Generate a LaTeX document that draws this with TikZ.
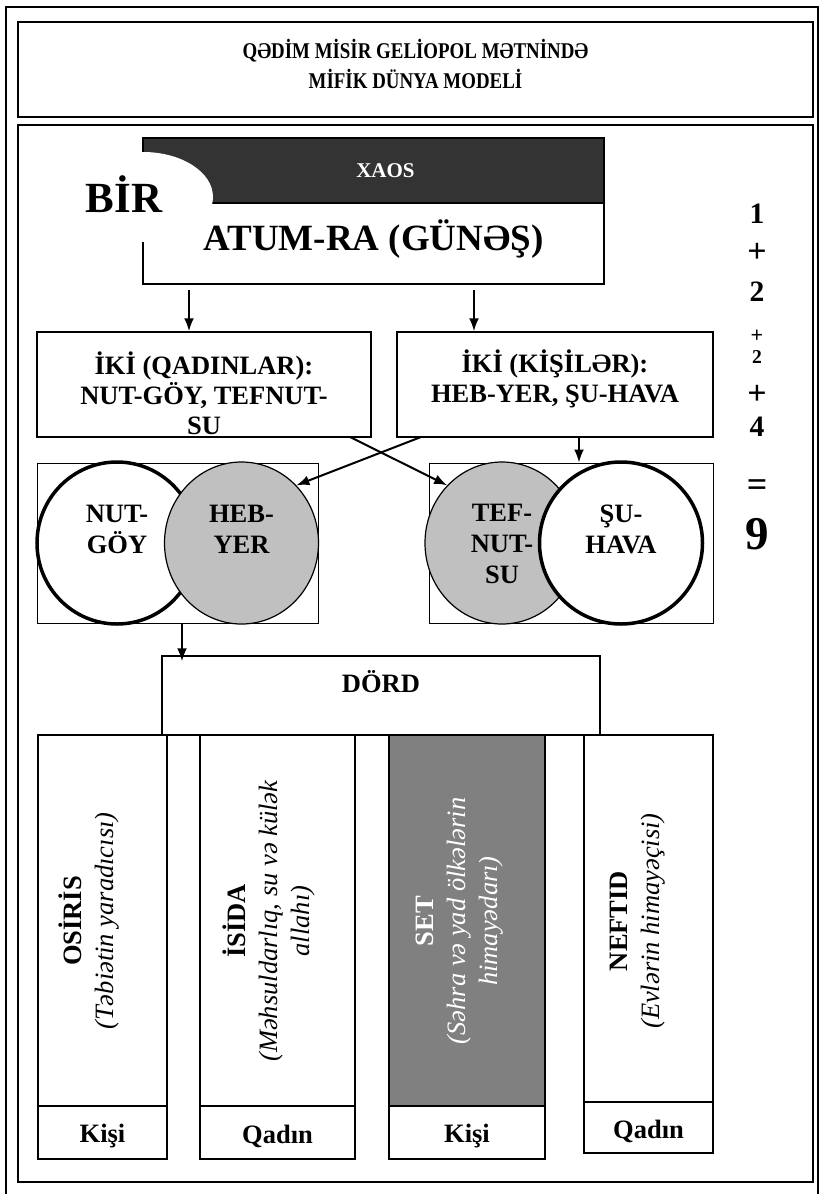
\documentclass[tikz,border=0pt]{standalone}
\usepackage{fontspec}
\setmainfont{Liberation Serif}
\newfontfamily\schmal[FakeStretch=0.84]{Liberation Serif}
\usepackage{tikz}
\usetikzlibrary{shapes.geometric}
\usetikzlibrary{positioning}
\usetikzlibrary{arrows.meta}
\definecolor{xaosgrau}{HTML}{333333}
\definecolor{kreisgrau}{HTML}{C0C0C0}
\definecolor{setgrau}{HTML}{808080}
\tikzset{every picture/.style={x=1pt,y=-1pt,line width=1.5pt}}
\tikzset{kasten/.style={draw, line width=1.5pt, inner sep=0pt, align=center, text depth=0pt, font=\bfseries\fontsize{26.5}{30}\selectfont},
  pfeil/.style={-{Latex[length=13pt,width=10pt]}, line width=2pt},
  weiss/.style={ellipse, draw, fill=white, line width=3.5pt, minimum height=162pt, inner sep=0pt, text height=20pt, text depth=0pt, align=center, font=\bfseries\fontsize{26.5}{31}\selectfont},
  grau/.style={weiss, fill=kreisgrau, line width=1.2pt},
  saeule/.style={draw, line width=1.5pt, minimum height=371pt},
  dik/.style={rotate=90, align=center, font=\fontsize{26.5}{32}\selectfont},
  zahl/.style={font=\bfseries\fontsize{29.6}{30}\selectfont}}

\begin{document}
\begin{tikzpicture}
\useasboundingbox (0,0) rectangle (821,1194);
\draw (6,7) rectangle (818,1200);
\draw (18,125) rectangle (813,1182);

\node (titel) [kasten, font=\schmal\bfseries\fontsize{22.5}{30}\selectfont, minimum width=795pt, minimum height=95pt, text height=37pt] at (415.5,69.5) {QƏDİM MİSİR GELİOPOL MƏTNİNDƏ\\MİFİK DÜNYA MODELİ};

\node (xaos) [draw, fill=xaosgrau, text=white, minimum width=461pt, minimum height=65pt, font=\bfseries\fontsize{21}{21}\selectfont] at (373.5,170.5) {\hspace*{24pt}XAOS};
\node (atum) [kasten, font=\bfseries\fontsize{37}{37}\selectfont, minimum width=461pt, minimum height=81pt, text height=13pt] at (373.5,243.5) {ATUM-RA (GÜNƏŞ)};
\fill[white] (143,197) ellipse [x radius=70, y radius=45];
\node (bir) [font=\bfseries\fontsize{43}{43}\selectfont] at (124,194) {BİR};

\node (ik1) [kasten, minimum width=334pt, minimum height=105pt, text height=99pt] at (204,384.5) {İKİ (QADINLAR):\\NUT-GÖY, TEFNUT-\\SU};
\node (ik2) [kasten, right of=ik1, node distance=351pt, minimum width=316pt, minimum height=105pt, text height=35pt] {İKİ (KİŞİLƏR):\\HEB-YER, ŞU-HAVA};

\node (cb1) [draw, line width=1pt, minimum width=281pt, minimum height=160pt] at (177.5,543) {};
\node (cb2) [draw, line width=1pt, minimum width=284pt, minimum height=160pt] at (571,543) {};
\node (nut) [weiss, minimum width=160pt] at (117,543) {NUT-\\GÖY};
\node (heb) [grau, right of=nut, node distance=124.5pt, minimum width=154pt] {HEB-\\YER};
\node (tef) [grau, minimum width=154pt, text height=80pt] at (502,543) {TEF-\\NUT-\\SU};
\node (su) [weiss, right of=tef, node distance=119pt, minimum width=163pt] {ŞU-\\HAVA};

\node (dord) [kasten, minimum width=438pt, minimum height=79pt, text height=0pt, text depth=7pt] at (381,695.5) {DÖRD};

\node (c1) [saeule, minimum width=129pt] at (102.5,920.5) {};
\node (c2) [saeule, minimum width=155pt] at (277.5,920.5) {};
\node (c3) [saeule, fill=setgrau, minimum width=156pt] at (467,920.5) {};
\node (c4) [saeule, minimum width=129pt, minimum height=367pt] at (648.5,918.5) {};
\node (k1) [kasten, below of=c1, node distance=212pt, minimum width=129pt, minimum height=53pt, text height=19pt] {Kişi};
\node (k2) [kasten, below of=c2, node distance=212pt, minimum width=155pt, minimum height=53pt, text height=21pt] {Qadın};
\node (k3) [kasten, below of=c3, node distance=212pt, minimum width=156pt, minimum height=53pt, text height=19pt] {Kişi};
\node (k4) [kasten, below of=c4, node distance=209pt, minimum width=129pt, minimum height=51pt, text height=21pt] {Qadın};

\node (osiris) [dik] at (89.5,921) {\textbf{OSİRİS}\\\textit{(Təbiətin yaradıcısı)}};
\node (isida) [dik] at (268.5,921) {\textbf{İSİDA}\\\textit{(Məhsuldarlıq, su və külək}\\\textit{allahı)}};
\node (seth) [dik, text=white] at (459.5,921) {\textbf{SET}\\\textit{(Səhra və yad ölkələrin}\\\textit{himayədarı)}};
\node (neftid) [dik] at (638,921) {\textbf{NEFTID}\\\textit{(Evlərin himayəçisi)}};

\node (n1) [zahl] at (757,214) {1};
\node (n2) [zahl, font=\bfseries\fontsize{34}{34}\selectfont] at (757,253) {+};
\node (n3) [zahl] at (757,292) {2};
\node (n4) [font=\bfseries\fontsize{22}{22}\selectfont] at (757,336) {+};
\node (n5) [font=\bfseries\fontsize{19.6}{20}\selectfont] at (757,357) {2};
\node (n6) [zahl, font=\bfseries\fontsize{34}{34}\selectfont] at (757,395) {+};
\node (n7) [zahl] at (757,427) {4};
\node (n8) [zahl, font=\bfseries\fontsize{36}{36}\selectfont] at (757,488) {=};
\node (n9) [font=\bfseries\fontsize{47}{47}\selectfont] at (757,534) {9};

\coordinate (p1) at (189,290);
\coordinate (p2) at (474,290);
\coordinate (q1) at (350,437);
\coordinate (q2) at (421,437);
\coordinate (q3) at (579,437);
\coordinate (q4) at (182,623);
\draw[pfeil] (p1) -- (p1 |- ik1.north);
\draw[pfeil] (p2) -- (p2 |- ik2.north);
\draw[pfeil] (q1) -- (tef.north west);
\draw[pfeil] (q2) -- (heb.north east);
\draw[pfeil] (q3) -- (q3 |- cb2.north);
\draw[pfeil] (q4) -- ([yshift=-6pt]q4 |- dord.north);
\end{tikzpicture}
\end{document}
